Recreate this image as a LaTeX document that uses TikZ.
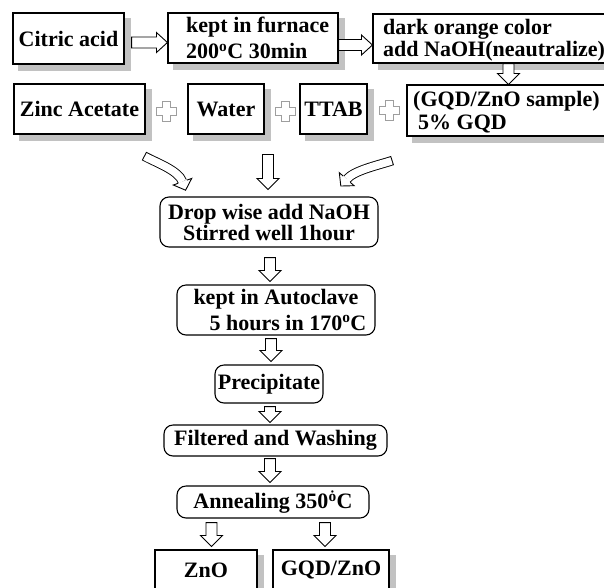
\documentclass[tikz,border=0pt]{standalone}
\usepackage{fontspec}
\setmainfont{Liberation Serif}
\usetikzlibrary{calc}
\definecolor{shadowgray}{rgb}{0.76,0.76,0.76}
\definecolor{plusgray}{rgb}{0.62,0.62,0.62}
% block arrow: #1 start, #2 tip, #3 shaft half width, #4 head half width
\newcommand\blockarr[4]{%
  \coordinate (ba-c) at ($(#2)!11pt!(#1)$);
  \draw[barrow] ($(#1)!#3!90:(#2)$) -- ($(ba-c)!#3!-90:(#1)$) -- ($(ba-c)!#4!-90:(#1)$) -- (#2)
     -- ($(ba-c)!#4!90:(#1)$) -- ($(ba-c)!#3!90:(#1)$) -- ($(#1)!#3!-90:(#2)$) -- cycle;}
\newcommand\plussign[1]{%
  \draw[plusstyle] ($(#1)+(-4,-10)$) -- ++(8,0) -- ++(0,6) -- ++(6,0) -- ++(0,8) -- ++(-6,0)
     -- ++(0,6) -- ++(-8,0) -- ++(0,-6) -- ++(-6,0) -- ++(0,-8) -- ++(6,0) -- cycle;}
% drop shadow drawn as two gray bands to the right of and below a box
\newcommand\boxshadow[1]{%
  \draw[shadowband] ($(#1.north east)+(3.6,6)$) -- ($(#1.south east)+(3.6,6.6)$);
  \draw[shadowband] ($(#1.south west)+(6,3.6)$) -- ($(#1.south east)+(0.6,3.6)$);}
\begin{document}
\begin{tikzpicture}[x=1pt,y=-1pt,
  txt/.style={font=\fontsize{22}{26}\selectfont\bfseries},
  shadowband/.style={draw=shadowgray, line width=6pt, line cap=butt},
  sbox/.style={draw, line width=1.1pt, fill=white, inner sep=0pt, txt},
  rbox/.style={draw, line width=1.1pt, fill=white, rounded corners=9pt, inner sep=0pt, txt},
  barrow/.style={draw=black, fill=white, line width=0.9pt, line join=miter},
  plusstyle/.style={draw=plusgray, fill=white, line width=0.8pt},
  lbl/.style={txt, inner sep=0pt, align=left, anchor=west}]
\useasboundingbox (0,0) rectangle (604,587);
\clip (0,0) rectangle (604,587);

% row 1
\node[sbox, minimum width=111, minimum height=51] (citric) at (68.5,38.5) {Citric acid};
\node[sbox, minimum width=170, minimum height=50] (furnace) at (253,38) {};
\node[lbl] (furnacetxt) at (186,38) {kept in furnace\\200\textsuperscript{o}C 30min};
\node[sbox, minimum width=240, minimum height=49] (orange) at (493,38.5) {};
\node[lbl] (orangetxt) at (383,40.5) {dark orange color\\[-4pt]add NaOH(neautralize)};

% row 2
\node[sbox, minimum width=131, minimum height=50] (zinc) at (79.5,109) {Zinc Acetate};
\node[sbox, minimum width=76, minimum height=50] (water) at (226,109) {Water};
\node[sbox, minimum width=67, minimum height=50] (ttab) at (333.5,109) {TTAB};
\node[sbox, minimum width=206, minimum height=51] (gqd) at (510,110.5) {};
\node[lbl] (gqdtxt) at (413,112.5) {(GQD/ZnO sample)\\[-3pt]\hspace*{5pt}5\% GQD};

% process column
\node[rbox, minimum width=218, minimum height=50, align=center] (drop) at (269,222)
  {Drop wise add NaOH\\[-5pt]Stirred well 1hour};
\node[rbox, minimum width=198, minimum height=50, align=center] (auto) at (276,310)
  {kept in Autoclave\\\hspace*{24pt}5 hours in 170\textsuperscript{o}C};
\node[rbox, minimum width=108, minimum height=38] (prec) at (269,384) {Precipitate};
\node[rbox, minimum width=223, minimum height=31] (filt) at (275.5,440.5) {Filtered and Washing};
\node[rbox, minimum width=192, minimum height=32] (anneal) at (273,502) {Annealing 350\textsuperscript{\.{o}}C};
\node[sbox, minimum width=102, minimum height=40] (zno) at (206,570) {ZnO};
\node[sbox, minimum width=116, minimum height=40] (gqdzno) at (331,570) {GQD/ZnO};

% shadows
\boxshadow{citric}
\boxshadow{furnace}
\boxshadow{orange}
\boxshadow{zinc}
\boxshadow{water}
\boxshadow{ttab}
\boxshadow{gqd}
\boxshadow{zno}
\boxshadow{gqdzno}

% straight block arrows
\coordinate (a1s) at ($(citric.east)+(7,4)$);
\coordinate (a1e) at ($(furnace.west)+(0,4.5)$);
\blockarr{a1s}{a1e}{5.5pt}{10pt}
\coordinate (a2s) at ($(furnace.east)+(0,7)$);
\coordinate (a2e) at ($(orange.west)+(0,6.5)$);
\blockarr{a2s}{a2e}{5.5pt}{10pt}
\coordinate (a3s) at ($(orange.south west)+(136,0)$);
\coordinate (a3e) at (a3s |- gqd.north);
\blockarr{a3s}{a3e}{5.5pt}{11pt}
\coordinate (a4s) at ($(drop.north)+(-1,-42)$);
\coordinate (a4e) at ($(drop.north)+(-1,-7)$);
\blockarr{a4s}{a4e}{5.5pt}{11pt}
\coordinate (a5s) at ($(drop.south)+(1,10)$);
\coordinate (a5e) at ($(auto.north)+(-6,-3)$);
\blockarr{a5s}{a5e}{5.5pt}{11pt}
\coordinate (a6s) at ($(auto.south)+(-5,3)$);
\coordinate (a6e) at ($(prec.north)+(2,-3)$);
\blockarr{a6s}{a6e}{5.5pt}{11pt}
\coordinate (a7s) at ($(prec.south)+(1,3)$);
\coordinate (a7e) at ($(filt.north)+(-5.5,-2)$);
\blockarr{a7s}{a7e}{5.5pt}{11pt}
\coordinate (a8s) at ($(filt.south)+(-5.5,2)$);
\coordinate (a8e) at ($(anneal.north)+(-3,-3)$);
\blockarr{a8s}{a8e}{5.5pt}{11pt}
\coordinate (a9s) at ($(anneal.south)+(-61.5,4)$);
\coordinate (a9e) at ($(a9s |- zno.north)+(0,-3)$);
\blockarr{a9s}{a9e}{5.5pt}{11pt}
\coordinate (a10s) at ($(anneal.south)+(52,4)$);
\coordinate (a10e) at ($(a10s |- gqdzno.north)+(0,-3)$);
\blockarr{a10s}{a10e}{5.5pt}{11pt}

% curved arrow from the left
\coordinate (cl0) at (144,156);
\coordinate (cl1) at (157,163);
\coordinate (cl2) at (178.4,170.4);
\coordinate (cl3) at (182.5,181.7);
\coordinate (hl1) at (186.9,180.1);
\coordinate (hl2) at (191.7,178.4);
\coordinate (hlt) at (185.6,190.2);
\coordinate (hl3) at (173.3,185);
\coordinate (hl4) at (178.1,183.3);
\draw[line width=9.5pt] (cl0) .. controls (cl1) and (cl2) .. (cl3);
\draw[white, line width=7.7pt, shorten <=1pt] (cl0) .. controls (cl1) and (cl2) .. (cl3);
\filldraw[fill=white, line width=0.9pt] (hl1) -- (hl2) -- (hlt) -- (hl3) -- (hl4);

% curved arrow from the right
\coordinate (cr0) at (392.5,160.5);
\coordinate (cr1) at (378,165.3);
\coordinate (cr2) at (354.6,170.2);
\coordinate (cr3) at (346.7,179.2);
\coordinate (hr1) at (350.2,182.3);
\coordinate (hr2) at (354.1,185.7);
\coordinate (hrt) at (340.8,186);
\coordinate (hr3) at (339.3,172.7);
\coordinate (hr4) at (343.2,176.1);
\draw[line width=9.5pt] (cr0) .. controls (cr1) and (cr2) .. (cr3);
\draw[white, line width=7.7pt, shorten <=1pt] (cr0) .. controls (cr1) and (cr2) .. (cr3);
\filldraw[fill=white, line width=0.9pt] (hr1) -- (hr2) -- (hrt) -- (hr3) -- (hr4);

% plus signs
\coordinate (p1) at ($(zinc.east)!0.5!(water.west)+(0,2)$);
\coordinate (p2) at ($(water.east)!0.5!(ttab.west)+(3,2)$);
\coordinate (p3) at ($(ttab.east)!0.5!(gqd.west)+(2,1)$);
\plussign{p1}
\plussign{p2}
\plussign{p3}
\end{tikzpicture}
\end{document}
